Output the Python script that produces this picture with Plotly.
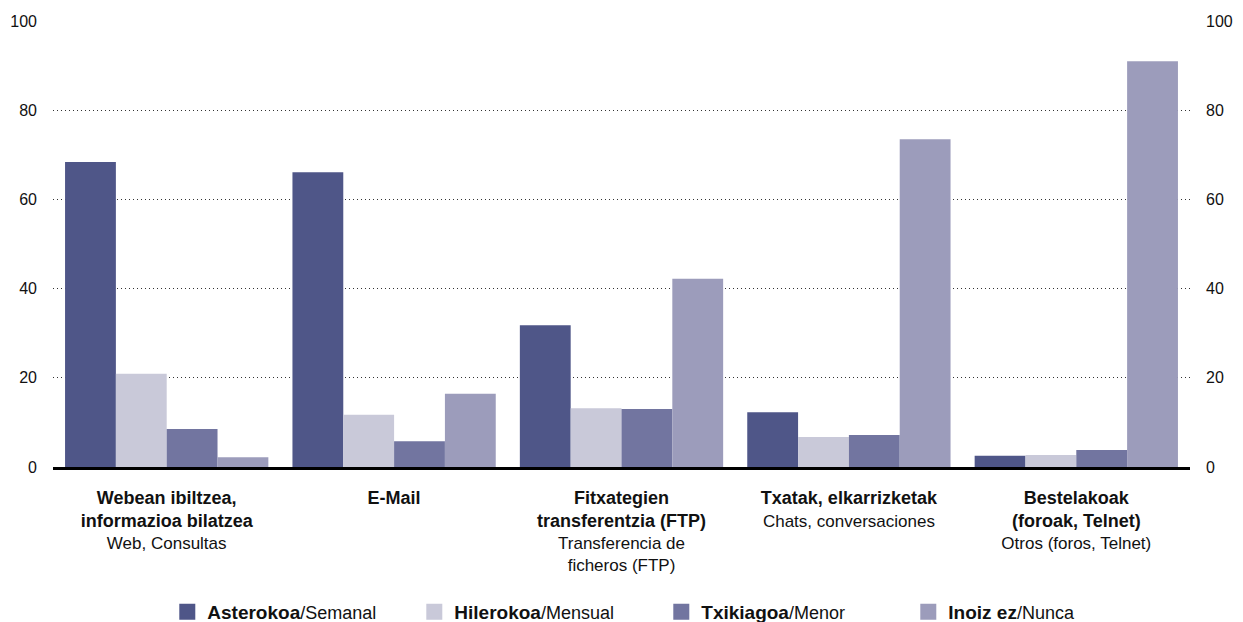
import plotly.graph_objects as go

B = '<span style="font-weight:bold;font-size:18px">'
BL = '<span style="font-weight:bold;font-size:19px">'
E = '</span>'
categories = [
    f"{B}Webean ibiltzea,{E}<br>{B}informazioa bilatzea{E}<br>Web, Consultas",
    f"{B}E-Mail{E}",
    f"{B}Fitxategien{E}<br>{B}transferentzia (FTP){E}<br>Transferencia de<br>ficheros (FTP)",
    f"{B}Txatak, elkarrizketak{E}<br>Chats, conversaciones",
    f"{B}Bestelakoak{E}<br>{B}(foroak, Telnet){E}<br>Otros (foros, Telnet)",
]
series_names = [
    f"{BL}Asterokoa{E}/Semanal",
    f"{BL}Hilerokoa{E}/Mensual",
    f"{BL}Txikiagoa{E}/Menor",
    f"{BL}Inoiz ez{E}/Nunca",
]
asterokoa = [68.4, 66.1, 31.8, 12.3, 2.5]
hilerokoa = [20.9, 11.7, 13.2, 6.7, 2.7]
txikiagoa = [8.5, 5.8, 13.0, 7.2, 3.8]
inoiz_ez = [2.2, 16.4, 42.2, 73.5, 91.0]
colors = ["#4f5688", "#c9c9d9", "#7275a0", "#9c9cbb"]
y_ticks = [0, 20, 40, 60, 80, 100]

x_idx = list(range(len(categories)))
fig = go.Figure()
for name, vals, col in zip(series_names, [asterokoa, hilerokoa, txikiagoa, inoiz_ez], colors):
    fig.add_trace(go.Bar(x=x_idx, y=vals, name=name, showlegend=False,
                         marker=dict(color=col, line=dict(width=0))))
# legend-only entries with larger square symbols
for name, col in zip(series_names, colors):
    fig.add_trace(go.Scatter(x=[None], y=[None], name=name, mode="markers",
                             marker=dict(symbol="square", size=18, color=col)))

# invisible trace to carry the right axis
fig.add_trace(go.Scatter(x=[0], y=[0], yaxis="y2", showlegend=False, mode="markers",
                         marker=dict(opacity=0), hoverinfo="skip"))

font_family = "Liberation Sans, Arial, sans-serif"
fig.update_layout(
    width=1243, height=622,
    margin=dict(l=53, r=53, t=21, b=155, autoexpand=False),
    plot_bgcolor="white", paper_bgcolor="white",
    font=dict(family=font_family, size=17, color="#111"),
    barmode="group", bargap=0.106, bargroupgap=0,
    showlegend=True,
    legend=dict(orientation="h", x=0.535, xanchor="center", y=-0.325, yanchor="middle",
                entrywidth=202, font=dict(size=18), itemsizing="trace"),
    xaxis=dict(tickmode="array", tickvals=x_idx, ticktext=categories, range=[-0.5, 4.5],
               showline=True, linecolor="black", linewidth=3, ticks="", showgrid=False,
               tickfont=dict(size=17), ticklabelstandoff=14),
    yaxis=dict(range=[0, 100], tickvals=y_ticks, showgrid=True, gridcolor="#333",
               griddash="1px,3px", gridwidth=1, zeroline=False, ticks="",
               tickfont=dict(size=16), ticklabelstandoff=15),
    yaxis2=dict(range=[0, 100], tickvals=y_ticks, overlaying="y", side="right",
                showgrid=False, zeroline=False, ticks="", tickfont=dict(size=16),
                ticklabelstandoff=15),
)
fig.write_html("out.html", config={"displayModeBar": False},
               post_script="document.body.style.margin='0';document.body.style.overflow='hidden';")
